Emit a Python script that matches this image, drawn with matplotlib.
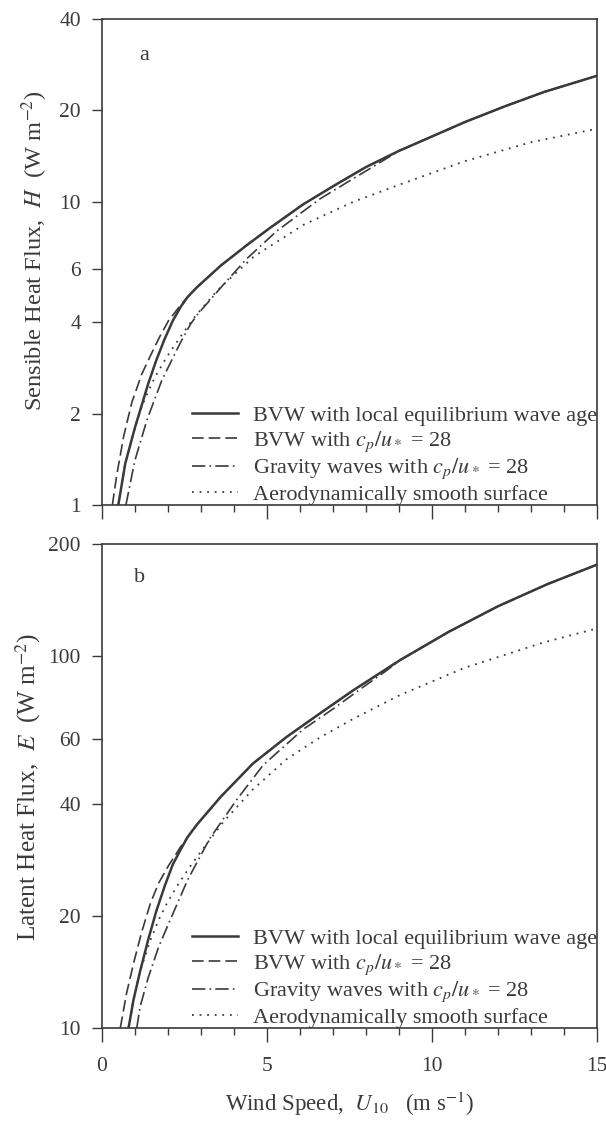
import numpy as np
import matplotlib
matplotlib.use("Agg")
import matplotlib.pyplot as plt
from matplotlib.ticker import FixedLocator, MultipleLocator, NullLocator

# ---- data (wind speed U10 in m/s) ----
# panel a: sensible heat flux H (W m-2)
solid_a_u = [0.50, 0.71, 1.01, 1.15, 1.40, 1.65, 1.90, 2.15, 2.40, 2.60, 2.88, 3.60, 4.40,
             5.10, 6.10, 7.10, 8.00, 9.00, 10.0, 11.0, 12.2, 13.4, 15.0]
solid_a_h = [1.00, 1.37, 1.81, 2.03, 2.50, 3.00, 3.52, 4.05, 4.52, 4.85, 5.22, 6.15, 7.20,
             8.20, 9.80, 11.4, 13.0, 14.7, 16.4, 18.3, 20.6, 23.0, 26.0]
dashed_a_u = [0.32, 0.45, 0.66, 0.91, 1.21, 1.50, 1.75, 2.02, 2.40, 2.60, 2.88, 3.60, 4.40,
              5.10, 6.10, 7.10, 8.00, 9.00, 10.0, 11.0, 12.2, 13.4, 15.0]
dashed_a_h = [1.00, 1.25, 1.68, 2.18, 2.70, 3.15, 3.58, 4.05, 4.58, 4.85, 5.22, 6.15, 7.20,
              8.20, 9.80, 11.4, 13.0, 14.7, 16.4, 18.3, 20.6, 23.0, 26.0]
gravity_a_u = [0.73, 1.00, 1.37, 1.82, 2.37, 2.69, 2.90, 3.70, 4.40, 5.30, 6.60, 7.50, 8.30,
               9.00, 10.0, 11.0, 12.2, 13.4, 15.0]
gravity_a_h = [1.00, 1.40, 1.91, 2.58, 3.41, 3.95, 4.25, 5.35, 6.50, 8.00, 10.2, 11.7, 13.2,
               14.7, 16.4, 18.3, 20.6, 23.0, 26.0]
smooth_a_u = [0.50, 0.71, 1.01, 1.21, 1.42, 1.62, 1.97, 2.49, 2.84, 3.50, 4.05, 4.61, 6.12,
              7.63, 9.04, 11.0, 13.0, 15.0]
smooth_a_h = [1.00, 1.37, 1.81, 2.11, 2.39, 2.65, 3.08, 3.73, 4.20, 5.10, 5.80, 6.60, 8.40,
              10.0, 11.4, 13.6, 15.7, 17.4]

# panel b: latent heat flux E (W m-2)
solid_b_u = [0.81, 0.96, 1.16, 1.40, 1.65, 1.90, 2.15, 2.40, 2.60, 2.88, 3.60, 4.58, 5.60,
             6.61, 7.62, 9.03, 10.5, 12.0, 13.5, 15.0]
solid_b_e = [10.0, 11.9, 14.2, 17.2, 20.6, 24.0, 27.5, 30.3, 32.6, 35.2, 41.8, 51.4, 60.6,
             70.1, 80.9, 97.4, 116, 136, 156, 176]
dashed_b_u = [0.56, 0.75, 0.96, 1.20, 1.47, 1.72, 2.02, 2.40, 2.60, 2.88, 3.60, 4.58, 5.60,
              6.61, 7.62, 9.03, 10.5, 12.0, 13.5, 15.0]
dashed_b_e = [10.0, 12.4, 14.9, 18.0, 21.6, 24.5, 27.3, 30.8, 32.6, 35.2, 41.8, 51.4, 60.6,
              70.1, 80.9, 97.4, 116, 136, 156, 176]
gravity_b_u = [1.06, 1.16, 1.40, 1.72, 2.07, 2.60, 3.27, 4.08, 4.89, 6.10, 7.00, 7.92, 8.60,
               9.03, 10.5, 12.0, 13.5, 15.0]
gravity_b_e = [10.0, 11.4, 13.6, 16.5, 19.5, 25.0, 32.3, 41.0, 50.9, 63.5, 72.0, 82.5, 91.0,
               97.4, 116, 136, 156, 176]
smooth_b_u = [0.81, 0.96, 1.16, 1.47, 1.72, 1.97, 2.27, 2.68, 2.98, 3.68, 4.58, 5.60, 6.61,
              7.62, 9.03, 11.0, 13.35, 15.0]
smooth_b_e = [10.0, 11.9, 14.2, 17.2, 19.5, 21.6, 24.0, 27.2, 29.6, 35.8, 43.8, 52.8, 60.4,
              67.8, 78.5, 93.0, 108.5, 118.6]

labels = ['BVW with local equilibrium wave age',
          r'BVW with $c_p/u_*$ = 28',
          r'Gravity waves with $c_p/u_*$ = 28',
          'Aerodynamically smooth surface']
yticks_a = [1, 2, 4, 6, 10, 20, 40]
yticks_b = [10, 20, 40, 60, 100, 200]
xticks = [0, 5, 10, 15]

plt.rcParams['font.family'] = ['Liberation Serif', 'DejaVu Serif']
plt.rcParams['mathtext.fontset'] = 'stix'

ink = '#3a3a3a'
fig = plt.figure(figsize=(6.06, 11.21), dpi=100)
ax_a = fig.add_axes([0.168, 0.5495, 0.817, 0.4335])
ax_b = fig.add_axes([0.168, 0.0830, 0.817, 0.4317])


def draw_panel(ax, curves, yticks, ylim):
    styles = [dict(ls='-', lw=1.8),
              dict(ls=(0, (7, 3)), lw=1.2),
              dict(ls=(0, (8, 2.5, 1, 2.5)), lw=1.2),
              dict(ls=(0, (1, 3.2)), lw=1.3)]
    for (u, v), st, lab in zip(curves, styles, labels):
        ax.plot(u, v, color=ink, label=lab, **st)
    ax.set_yscale('log')
    ax.set_xlim(0, 15)
    ax.set_ylim(*ylim)
    ax.yaxis.set_major_locator(FixedLocator(yticks))
    ax.yaxis.set_minor_locator(NullLocator())
    ax.set_yticklabels([str(t) for t in yticks])
    ax.xaxis.set_major_locator(FixedLocator(xticks))
    ax.xaxis.set_minor_locator(MultipleLocator(1))
    ax.tick_params(axis='both', which='major', direction='out', colors=ink,
                   labelsize=15.5, length=7, width=1.0, pad=8)
    ax.tick_params(axis='x', which='minor', direction='out', colors=ink,
                   length=5, width=1.0)
    ax.tick_params(axis='x', which='major', length=10, pad=11)
    for sp in ax.spines.values():
        sp.set_color(ink)
        sp.set_linewidth(1.2)
    ax.legend(loc='lower right', frameon=False, fontsize=16,
              handlelength=2.07, handletextpad=0.68, labelspacing=0.14,
              borderaxespad=0.0, borderpad=0.0, labelcolor=ink)


draw_panel(ax_a, [(solid_a_u, solid_a_h), (dashed_a_u, dashed_a_h),
                  (gravity_a_u, gravity_a_h), (smooth_a_u, smooth_a_h)],
           yticks_a, (1, 40))
draw_panel(ax_b, [(solid_b_u, solid_b_e), (dashed_b_u, dashed_b_e),
                  (gravity_b_u, gravity_b_e), (smooth_b_u, smooth_b_e)],
           yticks_b, (10, 200))

ax_a.set_xticklabels([])
ax_a.text(0.085, 0.925, 'a', transform=ax_a.transAxes, fontsize=16, color=ink,
          ha='center', va='center')
ax_b.text(0.077, 0.93, 'b', transform=ax_b.transAxes, fontsize=16, color=ink,
          ha='center', va='center')

ax_a.set_ylabel(r'Sensible Heat Flux,  $H$  (W m$^{-2}$)', fontsize=17.6, color=ink)
ax_a.yaxis.set_label_coords(-0.105, 0.523)
ax_b.set_ylabel(r'Latent Heat Flux,  $E$  (W m$^{-2}$)', fontsize=18.2, color=ink)
ax_b.yaxis.set_label_coords(-0.118, 0.498)
ax_b.set_xlabel(r'Wind Speed,  $U_{10}$   (m s$^{-1}$)', fontsize=16.5, color=ink,
                labelpad=10)

fig.savefig('out.png', dpi=100)
